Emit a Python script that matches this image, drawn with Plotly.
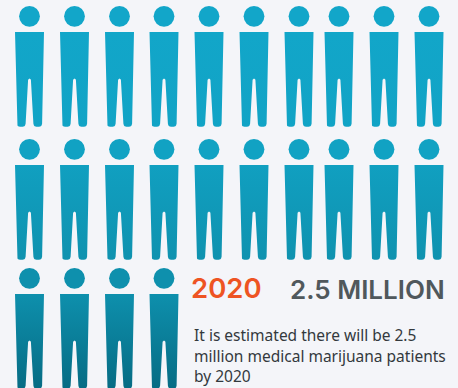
import math
import plotly.graph_objects as go

# One figure stands for a fixed share of patients; each row lists its figures
column_centres = [29.5, 74.5, 119.5, 164, 209, 254, 299, 339, 384, 429]
row_tops = [32, 165, 294]
row_counts = [10, 10, 4]

year_label = "2020"
total_label = "2.5 MILLION"
caption_lines = [
    "It is estimated there will be 2.5",
    "million medical marijuana patients",
    "by 2020",
]

# Vertical colour ramp over the whole pictogram, as (position, colour)
ramp = [
    (0.0, "#12a6c9"),
    (0.30, "#11a3c5"),
    (0.64, "#0f92af"),
    (0.74, "#0e8fac"),
    (1.0, "#066c84"),
]
RAMP_START, RAMP_STOP = 32, 388


def hex_rgb(value):
    return [int(value[i:i + 2], 16) for i in (1, 3, 5)]


def ramp_colour(y):
    t = min(1, max(0, (y - RAMP_START) / (RAMP_STOP - RAMP_START)))
    for (p0, c0), (p1, c1) in zip(ramp, ramp[1:]):
        if t <= p1:
            k = (t - p0) / (p1 - p0)
            a, b = hex_rgb(c0), hex_rgb(c1)
            return "rgb({},{},{})".format(*[round(u + (v - u) * k) for u, v in zip(a, b)])
    return ramp[-1][1]


def arc(cx, cy, r, start_deg, end_deg, steps=5):
    return [
        (cx + r * math.cos(math.radians(start_deg + (end_deg - start_deg) * i / steps)),
         cy + r * math.sin(math.radians(start_deg + (end_deg - start_deg) * i / steps)))
        for i in range(steps + 1)
    ]


def body_outline():
    """Half-silhouette of a figure relative to its centre and shoulder line."""
    height, crotch = 94.7, 47.3
    r = 3.0
    right = [(0, crotch - 0.8), (1.0, crotch)]
    right += [(1.4, crotch + 0.5), (3.9, height - r)]
    right += arc(3.9 + r, height - r, r, 180, 90)
    right += arc(12.6 - r, height - r, r, 90, 0)
    right += [(14.5, 0)]
    left = [(-x, y) for x, y in reversed(right)]
    return [(-14.5, 0)] + left[:-1] + right[:-1] + [(14.5, 0), (-14.5, 0)]


outline = body_outline()[1:] + [(-14.5, 0)]

body_x, body_y, head_x, head_y, head_colours = [], [], [], [], []
for top, count in zip(row_tops, row_counts):
    for centre in column_centres[:count]:
        body_x += [centre + dx for dx, _ in outline] + [None]
        body_y += [top + dy for _, dy in outline] + [None]
        head_x.append(centre)
        head_y.append(top - 15.7)
        head_colours.append(ramp_colour(top - 16))

fig = go.Figure()
fig.add_trace(go.Scatter(
    x=body_x, y=body_y, mode="lines", fill="toself",
    line=dict(width=0, color="rgba(0,0,0,0)"),
    fillgradient=dict(
        type="vertical",
        colorscale=[[p, c] for p, c in ramp],
        start=RAMP_START, stop=RAMP_STOP,
    ),
    hoverinfo="skip", showlegend=False,
))
fig.add_trace(go.Scatter(
    x=head_x, y=head_y, mode="markers",
    marker=dict(size=20.8, color=head_colours, line=dict(width=0)),
    hoverinfo="skip", showlegend=False,
))

fig.add_annotation(x=189, y=288, text=year_label, showarrow=False,
                   xanchor="left", yanchor="middle",
                   font=dict(family="Inter", size=27.5, weight=600, color="#ee5423"))
fig.add_annotation(x=288, y=289, text=total_label, showarrow=False,
                   xanchor="left", yanchor="middle",
                   font=dict(family="Inter", size=26, weight=600, color="#50585c"))
for line, y in zip(caption_lines, [335, 356, 376]):
    fig.add_annotation(x=192, y=y, text=line, showarrow=False,
                       xanchor="left", yanchor="middle",
                       font=dict(family="Noto Sans", size=15.5, color="#33393d"))

fig.update_layout(
    width=458, height=388,
    margin=dict(l=0, r=0, t=0, b=0),
    paper_bgcolor="#f4f5f9", plot_bgcolor="#f4f5f9",
    xaxis=dict(range=[0, 458], visible=False, fixedrange=True),
    yaxis=dict(range=[388, 0], visible=False, fixedrange=True),
)

fig.write_html("out.html", config={"displayModeBar": False})
